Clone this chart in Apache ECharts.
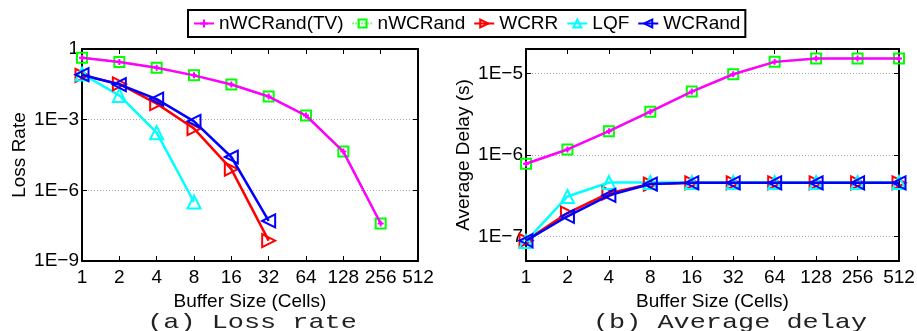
<!DOCTYPE html>
<html>
<head>
<meta charset="utf-8">
<script src="https://cdn.jsdelivr.net/npm/echarts@6/dist/echarts.min.js"></script>
<style>
  html, body { margin: 0; padding: 0; background: #fff; }
  #chart { width: 917px; height: 331px; }
</style>
</head>
<body>
<div id="chart"></div>
<script>
const bufferSizes = [1, 2, 4, 8, 16, 32, 64, 128, 256, 512];

// (a) loss rate
const lossNWCRandTV = [0.43, 0.28, 0.16, 0.076, 0.031, 0.0096, 0.0015, 4.4e-5, 3.9e-8];
const lossNWCRand = [0.43, 0.28, 0.16, 0.076, 0.031, 0.0096, 0.0015, 4.4e-5, 3.9e-8];
const lossWCRR = [0.076, 0.033, 0.0048, 4.2e-4, 8e-6, 7.3e-9];
const lossLQF = [0.087, 0.0107, 2.8e-4, 3.2e-7];
const lossWCRand = [0.081, 0.031, 0.0074, 8.5e-4, 2.6e-5, 5e-8];

// (b) average delay
const delayNWCRandTV = [7.8e-7, 1.17e-6, 1.96e-6, 3.4e-6, 6.0e-6, 9.8e-6, 1.39e-5, 1.53e-5, 1.53e-5, 1.53e-5];
const delayNWCRand = [7.8e-7, 1.17e-6, 1.96e-6, 3.4e-6, 6.0e-6, 9.8e-6, 1.39e-5, 1.53e-5, 1.53e-5, 1.53e-5];
const delayWCRR = [8.9e-8, 1.94e-7, 3.4e-7, 4.4e-7, 4.55e-7, 4.55e-7, 4.55e-7, 4.55e-7, 4.55e-7, 4.55e-7];
const delayLQF = [8.7e-8, 3.1e-7, 4.6e-7, 4.6e-7, 4.6e-7, 4.6e-7, 4.6e-7, 4.6e-7, 4.6e-7, 4.6e-7];
const delayWCRand = [8.9e-8, 1.77e-7, 3.2e-7, 4.4e-7, 4.55e-7, 4.55e-7, 4.55e-7, 4.55e-7, 4.55e-7, 4.55e-7];

const FONT = "'Liberation Sans', Arial, sans-serif";

const styles = {
  "nWCRand(TV)": { color: "#ff00ff", symbol: "path://M0,-5L0,5M-5,0L5,0", size: 6, rotate: 0, fill: "#ff00ff", line: "solid", z: 4 },
  "nWCRand": { color: "#00ff00", symbol: "rect", size: 10, rotate: 0, fill: "transparent", line: [1, 2], z: 3 },
  "WCRR": { color: "#ff0000", symbol: "triangle", size: 13, rotate: -90, fill: "transparent", line: "solid", z: 5 },
  "LQF": { color: "#00ffff", symbol: "triangle", size: 13, rotate: 0, fill: "transparent", line: "solid", z: 5 },
  "WCRand": { color: "#0000ff", symbol: "triangle", size: 13, rotate: 90, fill: "transparent", line: "solid", z: 6 },
};

const zip = (vals) => vals.map((v, i) => [bufferSizes[i], v]);

const makeSeries = (name, vals, idx) => {
  const s = styles[name];
  return {
    type: "line",
    name: name,
    xAxisIndex: idx * 2,
    yAxisIndex: idx * 2,
    data: zip(vals),
    z: s.z,
    symbol: s.symbol,
    symbolSize: s.size,
    symbolRotate: s.rotate,
    showAllSymbol: true,
    lineStyle: { color: s.color, width: name === "nWCRand" ? 2 : 2.5, type: s.line },
    itemStyle: { color: s.fill, borderColor: s.color, borderWidth: 2 },
    emphasis: { disabled: true },
  };
};

const expLabel = (v) => {
  const l = Math.log10(v);
  const e = Math.round(l);
  if (Math.abs(l - e) > 1e-6) return "";
  return e === 0 ? "1" : "1E\u2212" + (-e);
};

const xAxisFor = (grid, pos) => ({
  type: "log",
  logBase: 2,
  min: 1,
  max: 512,
  gridIndex: grid,
  position: pos,
  name: pos === "bottom" ? "Buffer Size (Cells)" : "",
  nameLocation: "middle",
  nameGap: 27,
  nameTextStyle: { fontSize: 19, fontFamily: FONT, color: "#000" },
  axisLine: { show: true, lineStyle: { color: "#000", width: 2 } },
  axisTick: { show: true, inside: true, length: 5, lineStyle: { color: "#000", width: 1 } },
  axisLabel: {
    show: pos === "bottom",
    margin: 7,
    fontSize: 19,
    fontFamily: FONT,
    color: "#000",
    formatter: (v) => String(Math.round(v)),
  },
  splitLine: { show: false },
});

const yAxisFor = (grid, pos, base, min, max, name) => ({
  type: "log",
  logBase: base,
  min: min,
  max: max,
  gridIndex: grid,
  position: pos,
  name: pos === "left" ? name : "",
  nameLocation: "middle",
  nameGap: 53,
  nameTextStyle: { fontSize: 19, fontFamily: FONT, color: "#000" },
  axisLine: { show: true, lineStyle: { color: "#000", width: 2 } },
  axisTick: { show: true, inside: true, length: 5, lineStyle: { color: "#000", width: 1 } },
  axisLabel: {
    show: pos === "left",
    margin: 3,
    fontSize: 19,
    fontFamily: FONT,
    color: "#000",
    formatter: expLabel,
  },
  splitLine: {
    show: pos === "left",
    lineStyle: { color: "#aaa", width: 1, type: [1, 2] },
  },
});

const chart = echarts.init(document.getElementById("chart"), null, { renderer: "canvas" });

chart.setOption({
  animation: false,
  backgroundColor: "#fff",
  grid: [
    { left: 82, top: 49, width: 336, height: 212, outerBoundsMode: "none" },
    { left: 526, top: 49, width: 373, height: 212, outerBoundsMode: "none" },
  ],
  xAxis: [
    xAxisFor(0, "bottom"), xAxisFor(0, "top"),
    xAxisFor(1, "bottom"), xAxisFor(1, "top"),
  ],
  yAxis: [
    yAxisFor(0, "left", 1000, 1e-9, 1, "Loss Rate"),
    yAxisFor(0, "right", 1000, 1e-9, 1, ""),
    yAxisFor(1, "left", 10, 5e-8, 2e-5, "Average Delay (s)"),
    yAxisFor(1, "right", 10, 5e-8, 2e-5, ""),
  ],
  legend: {
    left: 188,
    top: 10,
    padding: [4, 5],
    itemGap: 8,
    itemWidth: 20,
    itemHeight: 10,
    borderColor: "#000",
    borderWidth: 2,
    backgroundColor: "#fff",
    data: ["nWCRand(TV)", "nWCRand", "WCRR", "LQF", "WCRand"],
    textStyle: { fontSize: 19, fontFamily: FONT, color: "#000" },
  },
  graphic: [
    {
      type: "text",
      x: 252,
      y: 322,
      scaleX: 1.28,
      style: { text: "(a) Loss rate", font: "21px 'Liberation Mono', monospace", fill: "#222", textAlign: "center", textVerticalAlign: "middle" },
    },
    {
      type: "text",
      x: 730,
      y: 322,
      scaleX: 1.28,
      style: { text: "(b) Average delay", font: "21px 'Liberation Mono', monospace", fill: "#222", textAlign: "center", textVerticalAlign: "middle" },
    },
  ],
  series: [
    makeSeries("nWCRand(TV)", lossNWCRandTV, 0),
    makeSeries("nWCRand", lossNWCRand, 0),
    makeSeries("WCRR", lossWCRR, 0),
    makeSeries("LQF", lossLQF, 0),
    makeSeries("WCRand", lossWCRand, 0),
    makeSeries("nWCRand(TV)", delayNWCRandTV, 1),
    makeSeries("nWCRand", delayNWCRand, 1),
    makeSeries("WCRR", delayWCRR, 1),
    makeSeries("LQF", delayLQF, 1),
    makeSeries("WCRand", delayWCRand, 1),
  ],
});
</script>
</body>
</html>
